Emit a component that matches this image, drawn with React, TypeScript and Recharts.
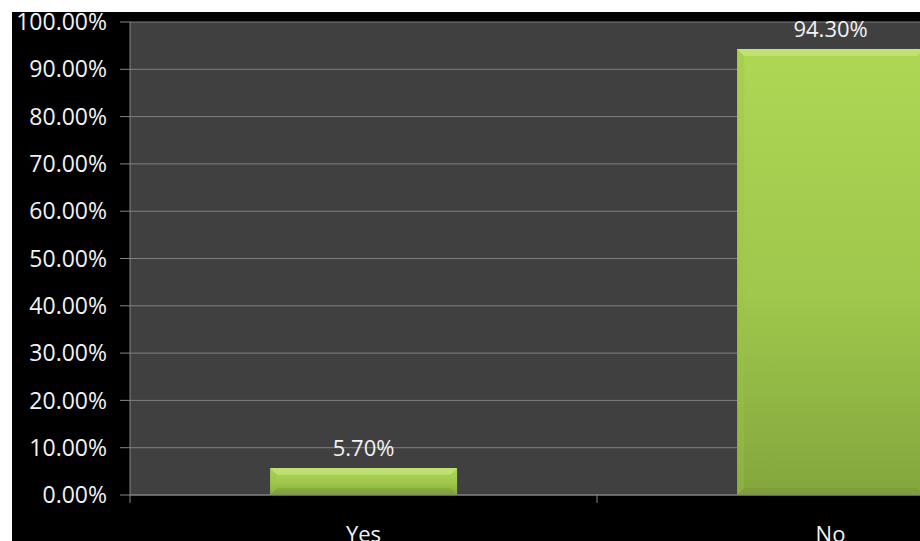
import { BarChart, Bar, XAxis, YAxis, CartesianGrid, LabelList } from "recharts";

const answers = ["Yes", "No"];
const shares = [5.7, 94.3];
const yTicks = [0, 10, 20, 30, 40, 50, 60, 70, 80, 90, 100];

const data = answers.map((answer, i) => ({ answer, share: shares[i] }));

const font = "'Open Sans', 'Noto Sans', sans-serif";
const textColor = "#f2f2f2";
const lineColor = "#858585";

const pct = (v: number) => `${v.toFixed(2)}%`;

function BevelBar(props: any) {
  const { x, y, width, height } = props;
  if (!height || height <= 0) return null;
  const edge = Math.min(7, height / 4);
  return (
    <g>
      <rect x={x} y={y} width={width} height={height} fill="url(#greenFill)" />
      <polygon
        points={`${x},${y} ${x + width},${y} ${x + width - edge},${y + edge} ${x + edge},${y + edge}`}
        fill="#c9ea85"
        opacity={0.6}
      />
      <polygon
        points={`${x},${y} ${x + edge},${y + edge} ${x + edge},${y + height - edge} ${x},${y + height}`}
        fill="#9cc24a"
        opacity={0.35}
      />
      <polygon
        points={`${x},${y + height} ${x + edge},${y + height - edge} ${x + width - edge},${y + height - edge} ${x + width},${y + height}`}
        fill="#6f8f30"
        opacity={0.3}
      />
    </g>
  );
}

function CategoryTick(props: any) {
  const { x, y, payload } = props;
  const half = payload?.offset ?? 0;
  return (
    <g>
      <line x1={x - half} y1={y} x2={x - half} y2={y + 8} stroke={lineColor} />
      <text
        x={x}
        y={y + 31}
        dy="0.71em"
        textAnchor="middle"
        fill={textColor}
        fontFamily={font}
        fontSize={22}
      >
        {payload.value}
      </text>
    </g>
  );
}

export default function App() {
  return (
    <div
      style={{
        position: "fixed",
        left: 12,
        top: 12,
        right: 0,
        bottom: 0,
        background: "#000",
        overflow: "hidden",
      }}
    >
      <BarChart
        width={1060}
        height={529}
        data={data}
        margin={{ top: 10, right: 8, left: 0, bottom: 0 }}
        barCategoryGap="30%"
      >
        <defs>
          <linearGradient id="greenFill" x1="0" y1="0" x2="0" y2="1">
            <stop offset="0%" stopColor="#aed755" />
            <stop offset="55%" stopColor="#9fc84c" />
            <stop offset="100%" stopColor="#84a63d" />
          </linearGradient>
        </defs>
        <CartesianGrid vertical={false} fill="#404040" stroke="#7f7f7f" />
        <XAxis
          dataKey="answer"
          height={46}
          axisLine={{ stroke: lineColor }}
          tickLine={false}
          tickSize={0}
          tickMargin={0}
          tick={<CategoryTick />}
          interval={0}
        />
        <YAxis
          width={118}
          domain={[0, 100]}
          ticks={yTicks}
          tickFormatter={pct}
          axisLine={{ stroke: lineColor }}
          tickLine={{ stroke: lineColor }}
          tickSize={10}
          tickMargin={13}
          tick={{ fill: textColor, fontFamily: font, fontSize: 23 }}
          interval={0}
        />
        <Bar dataKey="share" shape={<BevelBar />} isAnimationActive={false}>
          <LabelList
            dataKey="share"
            position="top"
            offset={12}
            formatter={(v: any) => pct(Number(v))}
            fill={textColor}
            fontFamily={font}
            fontSize={22}
          />
        </Bar>
      </BarChart>
    </div>
  );
}
